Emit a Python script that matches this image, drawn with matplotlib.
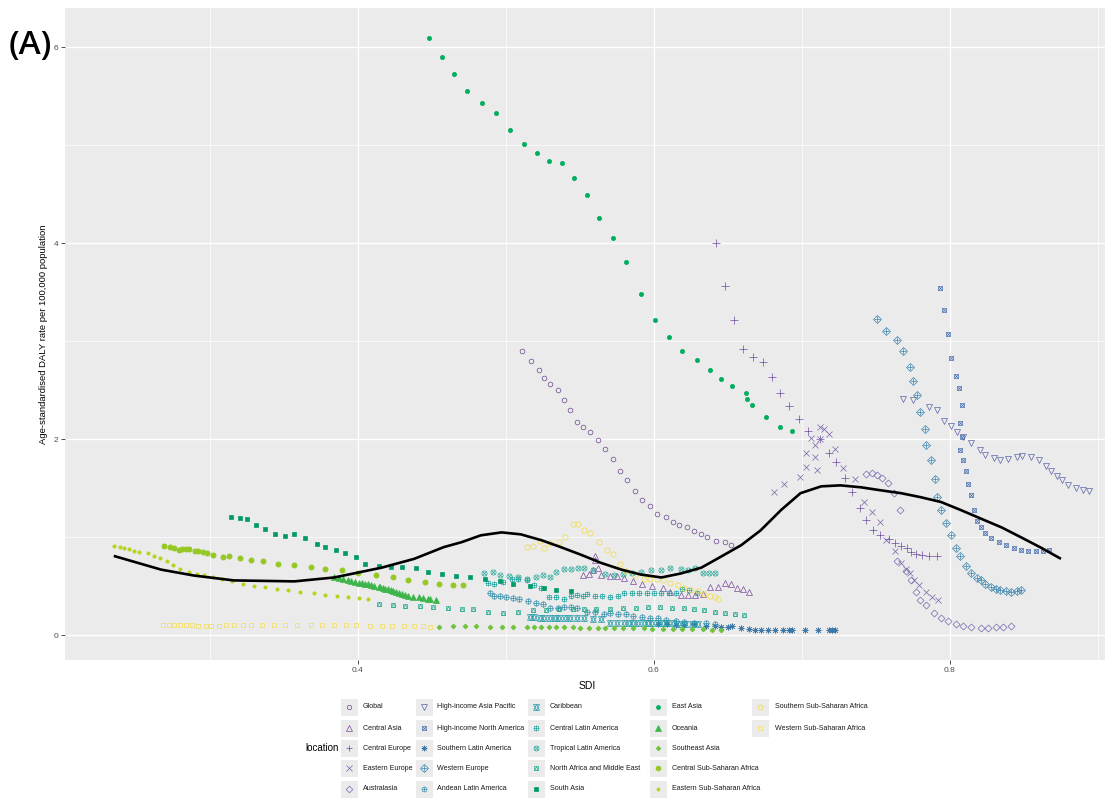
import numpy as np
import matplotlib
matplotlib.use("Agg")
import matplotlib.pyplot as plt
from matplotlib.patches import Rectangle

plt.rcParams["font.family"] = ["Liberation Sans", "DejaVu Sans"]

# ---------------------------------------------------------------- data
locations = [
    "Global", "Central Asia", "Central Europe", "Eastern Europe", "Australasia",
    "High-income Asia Pacific", "High-income North America", "Southern Latin America",
    "Western Europe", "Andean Latin America", "Caribbean", "Central Latin America",
    "Tropical Latin America", "North Africa and Middle East", "South Asia", "East Asia",
    "Oceania", "Southeast Asia", "Central Sub-Saharan Africa", "Eastern Sub-Saharan Africa",
    "Southern Sub-Saharan Africa", "Western Sub-Saharan Africa",
]

global_sdi = [0.511, 0.517, 0.522, 0.526, 0.530, 0.535, 0.539, 0.543, 0.548, 0.552, 0.557, 0.562, 0.567, 0.572, 0.577,
              0.582, 0.587, 0.592, 0.597, 0.602, 0.608, 0.613, 0.617, 0.622, 0.627, 0.632, 0.636, 0.642, 0.648, 0.652]
global_rate = [2.90, 2.80, 2.71, 2.63, 2.56, 2.50, 2.40, 2.30, 2.18, 2.13, 2.07, 1.99, 1.90, 1.80, 1.68,
               1.58, 1.47, 1.38, 1.32, 1.24, 1.21, 1.16, 1.13, 1.10, 1.06, 1.03, 1.00, 0.96, 0.95, 0.92]

central_asia_sdi = [0.552, 0.556, 0.559, 0.560, 0.560, 0.562, 0.564, 0.570, 0.575, 0.580, 0.586, 0.592, 0.599,
                    0.606, 0.611, 0.618, 0.623, 0.628, 0.633, 0.638, 0.643, 0.648, 0.652, 0.656, 0.660, 0.664]
central_asia_rate = [0.61, 0.63, 0.67, 0.77, 0.81, 0.69, 0.61, 0.60, 0.60, 0.58, 0.55, 0.52, 0.50,
                     0.48, 0.44, 0.41, 0.41, 0.41, 0.42, 0.49, 0.49, 0.53, 0.52, 0.48, 0.47, 0.44]

central_europe_sdi = [0.642, 0.648, 0.654, 0.660, 0.667, 0.674, 0.680, 0.685, 0.691, 0.698, 0.704, 0.712, 0.718, 0.723,
                      0.729, 0.734, 0.739, 0.743, 0.748, 0.753, 0.759, 0.763, 0.767, 0.771, 0.774, 0.777, 0.781, 0.786, 0.791]
central_europe_rate = [4.00, 3.57, 3.22, 2.92, 2.84, 2.79, 2.64, 2.47, 2.34, 2.21, 2.09, 2.00, 1.86, 1.77,
                       1.61, 1.46, 1.30, 1.18, 1.07, 1.02, 0.98, 0.94, 0.91, 0.89, 0.85, 0.83, 0.82, 0.81, 0.81]

eastern_europe_sdi = [0.681, 0.688, 0.699, 0.703, 0.703, 0.706, 0.709, 0.710, 0.709, 0.712, 0.715, 0.718, 0.712, 0.722,
                      0.728, 0.736, 0.742, 0.747, 0.753, 0.757, 0.763, 0.767, 0.770, 0.773, 0.776, 0.779, 0.784, 0.788, 0.792]
eastern_europe_rate = [1.46, 1.54, 1.62, 1.72, 1.86, 2.01, 1.94, 1.69, 1.82, 2.13, 2.11, 2.05, 2.00, 1.90,
                       1.71, 1.60, 1.36, 1.26, 1.16, 0.97, 0.86, 0.74, 0.68, 0.64, 0.56, 0.51, 0.44, 0.39, 0.36]

australasia_sdi = [0.743, 0.747, 0.751, 0.754, 0.758, 0.762, 0.766, 0.764, 0.770, 0.774, 0.777, 0.780, 0.784, 0.789,
                   0.794, 0.799, 0.804, 0.809, 0.814, 0.821, 0.826, 0.831, 0.836, 0.841]
australasia_rate = [1.65, 1.66, 1.64, 1.61, 1.55, 1.45, 1.28, 0.76, 0.66, 0.56, 0.44, 0.36, 0.31, 0.23,
                    0.18, 0.15, 0.11, 0.09, 0.08, 0.07, 0.07, 0.08, 0.08, 0.09]

hi_asia_pacific_sdi = [0.768, 0.775, 0.786, 0.791, 0.796, 0.801, 0.805, 0.809, 0.814, 0.820, 0.824, 0.830, 0.834,
                       0.839, 0.845, 0.849, 0.855, 0.860, 0.865, 0.868, 0.872, 0.876, 0.880, 0.885, 0.890, 0.894]
hi_asia_pacific_rate = [2.41, 2.40, 2.33, 2.30, 2.19, 2.14, 2.07, 2.02, 1.96, 1.89, 1.84, 1.81, 1.79,
                        1.80, 1.82, 1.83, 1.82, 1.79, 1.73, 1.68, 1.63, 1.58, 1.53, 1.50, 1.48, 1.47]

hi_north_america_sdi = [0.793, 0.796, 0.799, 0.801, 0.804, 0.806, 0.808, 0.807, 0.808, 0.807, 0.809, 0.811, 0.812, 0.814,
                        0.816, 0.818, 0.821, 0.824, 0.828, 0.833, 0.838, 0.843, 0.848, 0.853, 0.858, 0.863, 0.867]
hi_north_america_rate = [3.54, 3.32, 3.08, 2.83, 2.65, 2.52, 2.35, 2.17, 2.02, 1.89, 1.79, 1.68, 1.54, 1.43,
                         1.28, 1.17, 1.10, 1.04, 0.99, 0.95, 0.92, 0.89, 0.87, 0.86, 0.86, 0.86, 0.87]

southern_latam_sdi = [0.603, 0.609, 0.615, 0.620, 0.627, 0.635, 0.641, 0.645, 0.650, 0.653, 0.659, 0.664, 0.668, 0.672,
                      0.677, 0.682, 0.687, 0.691, 0.693, 0.702, 0.711, 0.718, 0.720, 0.722]
southern_latam_rate = [0.11, 0.11, 0.10, 0.10, 0.11, 0.09, 0.09, 0.08, 0.08, 0.09, 0.07, 0.06, 0.05, 0.05,
                       0.05, 0.05, 0.05, 0.05, 0.05, 0.05, 0.05, 0.05, 0.05, 0.05]

western_europe_sdi = [0.751, 0.757, 0.764, 0.768, 0.773, 0.775, 0.778, 0.780, 0.783, 0.784, 0.787, 0.790, 0.791, 0.794, 0.797,
                      0.801, 0.804, 0.807, 0.811, 0.814, 0.818, 0.821, 0.824, 0.828, 0.831, 0.834, 0.838, 0.841, 0.845, 0.848]
western_europe_rate = [3.23, 3.11, 3.01, 2.90, 2.74, 2.60, 2.45, 2.28, 2.11, 1.94, 1.79, 1.60, 1.41, 1.28, 1.15,
                       1.02, 0.89, 0.81, 0.71, 0.64, 0.58, 0.56, 0.52, 0.49, 0.47, 0.46, 0.45, 0.44, 0.45, 0.46]

andean_sdi = [0.489, 0.492, 0.496, 0.500, 0.505, 0.509, 0.515, 0.520, 0.525, 0.530, 0.535, 0.539, 0.544, 0.548, 0.555,
              0.560, 0.566, 0.570, 0.576, 0.581, 0.586, 0.592, 0.597, 0.603, 0.608, 0.615, 0.620, 0.627, 0.635, 0.641]
andean_rate = [0.43, 0.40, 0.40, 0.39, 0.38, 0.37, 0.35, 0.33, 0.32, 0.28, 0.28, 0.29, 0.29, 0.28, 0.24,
               0.24, 0.22, 0.23, 0.22, 0.22, 0.20, 0.19, 0.18, 0.18, 0.16, 0.15, 0.14, 0.13, 0.13, 0.12]

caribbean_sdi = [0.516, 0.519, 0.523, 0.526, 0.530, 0.533, 0.536, 0.540, 0.543, 0.548, 0.553, 0.559, 0.564, 0.570, 0.575,
                 0.580, 0.583, 0.586, 0.589, 0.593, 0.596, 0.599, 0.603, 0.606, 0.609, 0.613, 0.617, 0.621, 0.626, 0.630]
caribbean_rate = [0.19, 0.19, 0.18, 0.18, 0.18, 0.18, 0.18, 0.18, 0.18, 0.18, 0.18, 0.17, 0.17, 0.13, 0.13,
                  0.13, 0.13, 0.13, 0.13, 0.13, 0.13, 0.13, 0.13, 0.13, 0.13, 0.13, 0.12, 0.12, 0.11, 0.11]

central_latam_sdi = [0.488, 0.492, 0.498, 0.504, 0.508, 0.514, 0.519, 0.524, 0.529, 0.534, 0.539, 0.544, 0.548, 0.552, 0.555,
                     0.560, 0.565, 0.570, 0.576, 0.580, 0.585, 0.590, 0.595, 0.600, 0.605, 0.610, 0.615, 0.619, 0.624, 0.629]
central_latam_rate = [0.53, 0.52, 0.54, 0.57, 0.57, 0.56, 0.51, 0.48, 0.39, 0.39, 0.37, 0.40, 0.41, 0.40, 0.42,
                      0.40, 0.40, 0.39, 0.40, 0.43, 0.43, 0.43, 0.43, 0.43, 0.43, 0.43, 0.43, 0.47, 0.46, 0.43]

tropical_latam_sdi = [0.485, 0.491, 0.496, 0.502, 0.508, 0.514, 0.520, 0.525, 0.530, 0.534, 0.539, 0.544, 0.549, 0.553, 0.559,
                      0.567, 0.573, 0.579, 0.585, 0.591, 0.598, 0.605, 0.611, 0.618, 0.623, 0.628, 0.633, 0.637, 0.641]
tropical_latam_rate = [0.64, 0.65, 0.62, 0.60, 0.59, 0.57, 0.59, 0.61, 0.59, 0.65, 0.68, 0.68, 0.69, 0.69, 0.67,
                       0.63, 0.62, 0.63, 0.64, 0.65, 0.67, 0.67, 0.69, 0.68, 0.67, 0.69, 0.64, 0.64, 0.64]

name_sdi = [0.414, 0.424, 0.432, 0.442, 0.451, 0.461, 0.470, 0.478, 0.488, 0.498, 0.508, 0.518, 0.527, 0.536, 0.545,
            0.553, 0.561, 0.570, 0.579, 0.588, 0.596, 0.604, 0.612, 0.620, 0.627, 0.634, 0.641, 0.648, 0.655, 0.661]
name_rate = [0.32, 0.31, 0.30, 0.30, 0.29, 0.28, 0.27, 0.27, 0.24, 0.23, 0.24, 0.26, 0.26, 0.27, 0.27,
             0.27, 0.27, 0.27, 0.28, 0.28, 0.29, 0.29, 0.28, 0.28, 0.27, 0.26, 0.24, 0.23, 0.22, 0.21]

south_asia_sdi = [0.314, 0.320, 0.325, 0.331, 0.337, 0.344, 0.351, 0.357, 0.364, 0.372, 0.378, 0.385, 0.391, 0.399, 0.405,
                  0.414, 0.422, 0.430, 0.439, 0.447, 0.457, 0.466, 0.476, 0.486, 0.496, 0.505, 0.516, 0.526, 0.534, 0.544]
south_asia_rate = [1.21, 1.20, 1.19, 1.13, 1.08, 1.03, 1.01, 1.03, 0.99, 0.93, 0.90, 0.87, 0.84, 0.80, 0.73,
                   0.71, 0.70, 0.70, 0.69, 0.65, 0.63, 0.60, 0.59, 0.57, 0.55, 0.52, 0.50, 0.48, 0.46, 0.45]

east_asia_sdi = [0.448, 0.457, 0.465, 0.474, 0.484, 0.493, 0.503, 0.512, 0.521, 0.529, 0.538, 0.546, 0.555, 0.563, 0.572,
                 0.581, 0.591, 0.601, 0.610, 0.619, 0.629, 0.638, 0.645, 0.653, 0.662, 0.663, 0.666, 0.676, 0.685, 0.693]
east_asia_rate = [6.10, 5.90, 5.73, 5.56, 5.43, 5.33, 5.16, 5.01, 4.92, 4.84, 4.82, 4.67, 4.49, 4.26, 4.05,
                  3.81, 3.48, 3.22, 3.04, 2.90, 2.81, 2.71, 2.62, 2.54, 2.47, 2.41, 2.35, 2.23, 2.13, 2.08]

oceania_sdi = [0.384, 0.387, 0.390, 0.393, 0.395, 0.398, 0.401, 0.403, 0.405, 0.407, 0.409, 0.411, 0.414, 0.415, 0.417,
               0.418, 0.420, 0.422, 0.424, 0.426, 0.428, 0.430, 0.432, 0.434, 0.437, 0.441, 0.444, 0.447, 0.449, 0.453]
oceania_rate = [0.59, 0.58, 0.57, 0.56, 0.55, 0.54, 0.53, 0.53, 0.52, 0.52, 0.51, 0.50, 0.49, 0.49, 0.48,
                0.47, 0.47, 0.46, 0.45, 0.44, 0.43, 0.42, 0.41, 0.40, 0.39, 0.39, 0.38, 0.37, 0.37, 0.36]

southeast_asia_sdi = [0.455, 0.464, 0.472, 0.480, 0.489, 0.497, 0.505, 0.514, 0.519, 0.524, 0.529, 0.534, 0.539, 0.545, 0.550,
                      0.556, 0.562, 0.567, 0.573, 0.579, 0.586, 0.593, 0.599, 0.606, 0.613, 0.619, 0.626, 0.633, 0.639, 0.645]
southeast_asia_rate = [0.08, 0.09, 0.09, 0.09, 0.08, 0.08, 0.08, 0.08, 0.08, 0.08, 0.08, 0.08, 0.08, 0.08, 0.07,
                       0.07, 0.07, 0.07, 0.07, 0.07, 0.07, 0.07, 0.06, 0.06, 0.06, 0.06, 0.06, 0.06, 0.05, 0.05]

central_ssa_sdi = [0.269, 0.273, 0.276, 0.279, 0.281, 0.284, 0.286, 0.290, 0.292, 0.295, 0.298, 0.302, 0.309, 0.313, 0.320,
                   0.328, 0.336, 0.346, 0.357, 0.368, 0.378, 0.389, 0.400, 0.412, 0.424, 0.434, 0.445, 0.455, 0.464, 0.471]
central_ssa_rate = [0.91, 0.90, 0.89, 0.87, 0.88, 0.88, 0.88, 0.86, 0.86, 0.85, 0.84, 0.82, 0.80, 0.81, 0.79,
                    0.77, 0.76, 0.73, 0.72, 0.70, 0.68, 0.67, 0.64, 0.62, 0.59, 0.56, 0.54, 0.52, 0.51, 0.51]

eastern_ssa_sdi = [0.235, 0.239, 0.242, 0.245, 0.249, 0.252, 0.258, 0.262, 0.266, 0.271, 0.275, 0.280, 0.286, 0.291, 0.296,
                   0.302, 0.308, 0.315, 0.322, 0.330, 0.337, 0.345, 0.353, 0.361, 0.370, 0.378, 0.386, 0.393, 0.401, 0.407]
eastern_ssa_rate = [0.91, 0.90, 0.89, 0.88, 0.86, 0.85, 0.84, 0.81, 0.79, 0.76, 0.72, 0.68, 0.65, 0.63, 0.61,
                    0.59, 0.57, 0.55, 0.52, 0.50, 0.49, 0.47, 0.46, 0.44, 0.43, 0.41, 0.40, 0.39, 0.38, 0.37]

southern_ssa_sdi = [0.514, 0.518, 0.523, 0.526, 0.530, 0.536, 0.540, 0.545, 0.549, 0.553, 0.557, 0.563, 0.568, 0.572, 0.577,
                    0.581, 0.587, 0.593, 0.597, 0.602, 0.606, 0.611, 0.616, 0.620, 0.625, 0.630, 0.634, 0.638, 0.641, 0.643]
southern_ssa_rate = [0.90, 0.91, 0.96, 0.89, 0.94, 0.95, 1.00, 1.14, 1.14, 1.07, 1.04, 0.95, 0.87, 0.83, 0.73,
                     0.66, 0.62, 0.57, 0.57, 0.57, 0.56, 0.53, 0.51, 0.48, 0.46, 0.45, 0.42, 0.40, 0.39, 0.37]

western_ssa_sdi = [0.268, 0.272, 0.276, 0.280, 0.284, 0.288, 0.292, 0.297, 0.301, 0.306, 0.311, 0.316, 0.322, 0.328, 0.335,
                   0.343, 0.351, 0.359, 0.368, 0.376, 0.384, 0.392, 0.399, 0.408, 0.416, 0.423, 0.431, 0.438, 0.444, 0.449]
western_ssa_rate = [0.10, 0.10, 0.10, 0.10, 0.10, 0.10, 0.09, 0.09, 0.09, 0.09, 0.10, 0.10, 0.10, 0.10, 0.10,
                    0.10, 0.10, 0.10, 0.10, 0.10, 0.10, 0.10, 0.10, 0.09, 0.09, 0.09, 0.09, 0.09, 0.09, 0.08]

# smoothed expected relationship across all locations
smooth_sdi = [0.235, 0.267, 0.289, 0.316, 0.357, 0.384, 0.416, 0.438, 0.458, 0.470, 0.483, 0.497, 0.510, 0.524,
              0.537, 0.551, 0.564, 0.578, 0.591, 0.605, 0.618, 0.632, 0.645, 0.659, 0.672, 0.686, 0.699, 0.713,
              0.726, 0.740, 0.753, 0.767, 0.780, 0.794, 0.807, 0.821, 0.835, 0.848, 0.862, 0.875]
smooth_rate = [0.81, 0.67, 0.61, 0.56, 0.55, 0.59, 0.69, 0.78, 0.90, 0.95, 1.02, 1.05, 1.03, 0.97,
               0.90, 0.82, 0.74, 0.67, 0.62, 0.59, 0.63, 0.69, 0.80, 0.92, 1.07, 1.28, 1.45, 1.52,
               1.53, 1.51, 1.48, 1.45, 1.41, 1.36, 1.28, 1.19, 1.10, 1.00, 0.89, 0.78]

series = [
    (global_sdi, global_rate), (central_asia_sdi, central_asia_rate),
    (central_europe_sdi, central_europe_rate), (eastern_europe_sdi, eastern_europe_rate),
    (australasia_sdi, australasia_rate), (hi_asia_pacific_sdi, hi_asia_pacific_rate),
    (hi_north_america_sdi, hi_north_america_rate), (southern_latam_sdi, southern_latam_rate),
    (western_europe_sdi, western_europe_rate), (andean_sdi, andean_rate),
    (caribbean_sdi, caribbean_rate), (central_latam_sdi, central_latam_rate),
    (tropical_latam_sdi, tropical_latam_rate), (name_sdi, name_rate),
    (south_asia_sdi, south_asia_rate), (east_asia_sdi, east_asia_rate),
    (oceania_sdi, oceania_rate), (southeast_asia_sdi, southeast_asia_rate),
    (central_ssa_sdi, central_ssa_rate), (eastern_ssa_sdi, eastern_ssa_rate),
    (southern_ssa_sdi, southern_ssa_rate), (western_ssa_sdi, western_ssa_rate),
]

# ---------------------------------------------------------------- styles
colors = [
    "#6B4590", "#7B4A9E", "#6E4B9E", "#7A62AA", "#7468B0",
    "#5A64A8", "#4A6FB0", "#3E78A8", "#3D86B0", "#2E8DAA",
    "#1F9AA8", "#21A3A0", "#27A99A", "#22A88C", "#009A6A",
    "#00AE5E", "#3DB54A", "#6DC23A", "#95C823", "#B8D21A",
    "#F0DC3A", "#F5DC50",
]

# ggplot-like point shapes 1..22 built from matplotlib markers
# each entry: list of (marker, filled, size)
shape_specs = [
    [("o", False, 4.0)],                       # 1 open circle
    [("^", False, 5.0)],                       # 2 open triangle
    [("+", False, 6.0)],                       # 3 plus
    [("x", False, 4.6)],                       # 4 cross
    [("D", False, 4.2)],                       # 5 open diamond
    [("v", False, 5.0)],                       # 6 open down-triangle
    [("s", False, 4.0), ("x", False, 4.0)],    # 7 square cross
    [((8, 2, 0), False, 5.0)],                 # 8 asterisk
    [("D", False, 4.6), ("+", False, 5.0)],    # 9 diamond plus
    [("o", False, 4.4), ("+", False, 4.4)],    # 10 circle plus
    [("^", False, 4.6), ("v", False, 4.6)],    # 11 triangles up and down
    [("s", False, 4.0), ("+", False, 5.0)],    # 12 square plus
    [("o", False, 4.4), ("x", False, 3.2)],    # 13 circle cross
    [("s", False, 4.0), ("^", False, 3.2)],    # 14 square triangle
    [("s", True, 4.0)],                        # 15 filled square
    [("o", True, 3.6)],                        # 16 filled circle
    [("^", True, 4.6)],                        # 17 filled triangle
    [("D", True, 3.0)],                        # 18 filled diamond
    [("o", True, 4.4)],                        # 19 solid circle
    [("o", True, 2.8)],                        # 20 bullet
    [("o", False, 4.4)],                       # 21 circle
    [("s", False, 4.0)],                       # 22 square
]


def draw_shape(axis, x, y, spec, color, scale=0.85, z=3):
    for marker, filled, size in spec:
        axis.plot(x, y, linestyle="none", marker=marker, markersize=size * scale,
                  markerfacecolor=color if filled else "none", markeredgecolor=color,
                  markeredgewidth=0.5, zorder=z)


# ---------------------------------------------------------------- figure
W, H = 1105, 798
fig = plt.figure(figsize=(W / 100, H / 100), dpi=100)

all_x = np.concatenate([np.asarray(s[0]) for s in series])
all_y = np.concatenate([np.asarray(s[1]) for s in series])
xr = all_x.max() - all_x.min()
yr = all_y.max() - all_y.min()
xlim = (all_x.min() - 0.05 * xr, all_x.max() + 0.05 * xr)
ylim = (all_y.min() - 0.05 * yr, all_y.max() + 0.05 * yr)

px_per_sdi = 1480.0
left_px, top_px, bottom_px = 65, 8, 660
right_px = left_px + (xlim[1] - xlim[0]) * px_per_sdi
ax = fig.add_axes([left_px / W, 1 - bottom_px / H, (right_px - left_px) / W, (bottom_px - top_px) / H])
ax.set_facecolor("#EBEBEB")
ax.set_xlim(*xlim)
ax.set_ylim(*ylim)
for sp in ax.spines.values():
    sp.set_visible(False)

ax.set_xticks([0.4, 0.6, 0.8])
ax.set_xticks([0.3, 0.5, 0.7, 0.9], minor=True)
ax.set_yticks([0, 2, 4, 6])
ax.set_yticks([1, 3, 5], minor=True)
ax.set_xticklabels(["0.4", "0.6", "0.8"])
ax.set_yticklabels(["0", "2", "4", "6"])
ax.grid(which="major", color="white", linewidth=1.0)
ax.grid(which="minor", color="white", linewidth=0.5)
ax.set_axisbelow(True)
ax.tick_params(which="major", length=3, width=0.6, color="#333333", labelsize=6,
               labelcolor="#4D4D4D", pad=2)
ax.tick_params(which="minor", length=0)

for (xs, ys), spec, col in zip(series, shape_specs, colors):
    draw_shape(ax, xs, ys, spec, col)

ax.plot(smooth_sdi, smooth_rate, color="black", linewidth=1.9, zorder=4, solid_capstyle="butt")

ax.set_xlabel("SDI", fontsize=7.5, color="black")
ax.xaxis.set_label_coords((587 - left_px) / (right_px - left_px), -(681 - bottom_px) / (bottom_px - top_px))
ax.set_ylabel("Age-standardised DALY rate per 100,000 population", fontsize=6.8, color="black")
ax.yaxis.set_label_coords(-(left_px - 48) / (right_px - left_px), 0.5)

# ---------------------------------------------------------------- overlay (panel tag and legend)
lax = fig.add_axes([0, 0, 1, 1], facecolor="none")
lax.set_xlim(0, W)
lax.set_ylim(H, 0)
lax.axis("off")

lax.text(9, 46, "(A)", fontsize=24, family=["Open Sans", "DejaVu Sans"], fontweight="semibold",
         ha="left", va="center")

lax.text(305, 748, "location", fontsize=7, ha="left", va="center")
key_cols = [349, 424, 536, 658, 760]
label_cols = [363, 437, 550, 672, 775]
row_y = [707, 728, 748, 768, 789]
key_size = 17
for i, name in enumerate(locations):
    c, r = divmod(i, 5)
    kx, ky = key_cols[c], row_y[r]
    lax.add_patch(Rectangle((kx - key_size / 2, ky - key_size / 2), key_size, key_size,
                            facecolor="#EBEBEB", edgecolor="none", zorder=1))
    draw_shape(lax, [kx], [ky], shape_specs[i], colors[i], scale=0.8, z=2)
    lax.text(label_cols[c], ky, name, fontsize=5.1, ha="left", va="center", color="#1A1A1A")

fig.savefig("out.png", dpi=100)
